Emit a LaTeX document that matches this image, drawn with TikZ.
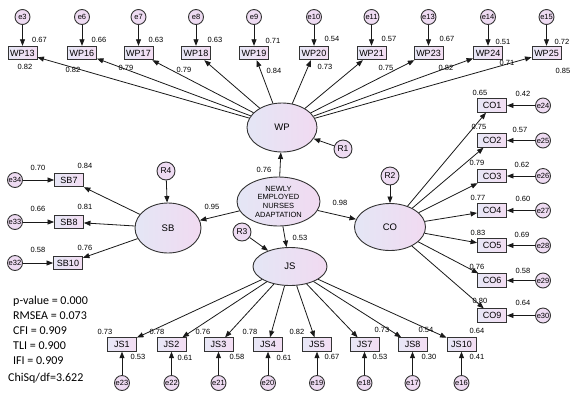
\documentclass[tikz,border=0pt]{standalone}
\usepackage{fontspec}
\setmainfont{Liberation Sans}
\newfontfamily\statfont{Carlito}
\usepackage{tikz}
\usetikzlibrary{arrows.meta,shapes.geometric}
\definecolor{boxl}{HTML}{E7E7F6}
\definecolor{boxr}{HTML}{F3DDF3}
\definecolor{latl}{HTML}{E4E6F5}
\definecolor{latr}{HTML}{F1DAF1}
\definecolor{errfill}{HTML}{EEDBF2}
\definecolor{edge}{HTML}{333333}
\tikzset{
  obs/.style={draw=edge,line width=0.9pt,left color=boxl,right color=boxr,minimum width=29pt,minimum height=13.5pt,inner sep=1pt,font=\fontsize{9}{10}\selectfont},
  lat/.style={ellipse,draw=edge,line width=0.9pt,left color=latl,right color=latr,inner sep=0pt,align=center,font=\fontsize{9.5}{11}\selectfont},
  err/.style={circle,draw=edge,line width=0.9pt,fill=errfill,minimum size=15pt,inner sep=0pt,font=\fontsize{7.5}{8}\selectfont},
  res/.style={err,minimum size=18pt,font=\fontsize{8.5}{9}\selectfont},
  coef/.style={inner sep=0pt,font=\fontsize{7.5}{8}\selectfont},
  parr/.style={-{Triangle[length=6.5pt,width=5pt]},line width=0.8pt,draw=black!90}
}
\begin{document}
\begin{tikzpicture}[x=1pt,y=-1pt]
  \useasboundingbox (0,0) rectangle (578,400);
  % latent variables
  \node[lat,minimum width=83pt,minimum height=49pt,font=\fontsize{7.5}{8.7}\selectfont] (nea) at (278.5,201.5) {NEWLY\\EMPLOYED\\NURSES\\ADAPTATION};
  \node[lat,minimum width=70pt,minimum height=49pt] (wp) at (282,127.5) {WP};
  \node[lat,minimum width=66pt,minimum height=50pt] (sb) at (168,228) {SB};
  \node[lat,minimum width=71pt,minimum height=47pt] (co) at (390,227) {CO};
  \node[lat,minimum width=74pt,minimum height=38pt] (js) at (290,266.5) {JS};
  \node[res] (r1) at (343,149) {R1}; \node[res] (r2) at (390,176) {R2};
  \node[res] (r3) at (242,232) {R3}; \node[res] (r4) at (166,171) {R4};
  \draw[parr] (nea)--(wp); \draw[parr] (nea)--(sb); \draw[parr] (nea)--(co); \draw[parr] (nea)--(js);
  \draw[parr] (r1)--(wp); \draw[parr] (r2)--(co); \draw[parr] (r3)--(js); \draw[parr] (r4)--(sb);
  \node[coef] (cwp) at (264,170) {0.76}; \node[coef] (csb) at (212,207) {0.95};
  \node[coef] (cco) at (340,203) {0.98}; \node[coef] (cjs) at (300,238) {0.53};
  % WP indicators
  \node[obs] (wp13) at (22.5,53) {WP13}; \node[err] (e3) at (22.5,17) {e3};
  \node[obs] (wp16) at (82,53) {WP16}; \node[err] (e6) at (82,17) {e6};
  \node[obs] (wp17) at (138.5,53) {WP17}; \node[err] (e7) at (138.5,17) {e7};
  \node[obs] (wp18) at (196,53) {WP18}; \node[err] (e8) at (196,17) {e8};
  \node[obs] (wp19) at (254,53) {WP19}; \node[err] (e9) at (254,17) {e9};
  \node[obs] (wp20) at (314,53) {WP20}; \node[err] (e10) at (314,17) {e10};
  \node[obs] (wp21) at (371.5,53) {WP21}; \node[err] (e11) at (371.5,17) {e11};
  \node[obs] (wp23) at (428.5,53) {WP23}; \node[err] (e13) at (428.5,17) {e13};
  \node[obs] (wp24) at (488,53) {WP24}; \node[err] (e14) at (488,17) {e14};
  \node[obs] (wp25) at (546.5,53) {WP25}; \node[err] (e15) at (546.5,17) {e15};
  \draw[parr] (e3)--(wp13); \draw[parr] (e6)--(wp16); \draw[parr] (e7)--(wp17); \draw[parr] (e8)--(wp18); \draw[parr] (e9)--(wp19);
  \draw[parr] (e10)--(wp20); \draw[parr] (e11)--(wp21); \draw[parr] (e13)--(wp23); \draw[parr] (e14)--(wp24); \draw[parr] (e15)--(wp25);
  \draw[parr] (wp)--(wp13); \draw[parr] (wp)--(wp16); \draw[parr] (wp)--(wp17); \draw[parr] (wp)--(wp18); \draw[parr] (wp)--(wp19);
  \draw[parr] (wp)--(wp20); \draw[parr] (wp)--(wp21); \draw[parr] (wp)--(wp23); \draw[parr] (wp)--(wp24); \draw[parr] (wp)--(wp25);
  \node[coef] (wp13v) at (39.5,40) {0.67}; \node[coef] (wp13l) at (25,67) {0.82};
  \node[coef] (wp16v) at (99,40) {0.66}; \node[coef] (wp16l) at (73,70) {0.82};
  \node[coef] (wp17v) at (156,40) {0.63}; \node[coef] (wp17l) at (126,68) {0.79};
  \node[coef] (wp18v) at (215,40) {0.63}; \node[coef] (wp18l) at (184,70) {0.79};
  \node[coef] (wp19v) at (273,41) {0.71}; \node[coef] (wp19l) at (274,71) {0.84};
  \node[coef] (wp20v) at (332,39) {0.54}; \node[coef] (wp20l) at (325,67) {0.73};
  \node[coef] (wp21v) at (389,39) {0.57}; \node[coef] (wp21l) at (386,68) {0.75};
  \node[coef] (wp23v) at (447,39) {0.67}; \node[coef] (wp23l) at (446,68) {0.82};
  \node[coef] (wp24v) at (503,42) {0.51}; \node[coef] (wp24l) at (507,63) {0.71};
  \node[coef] (wp25v) at (562,42) {0.72}; \node[coef] (wp25l) at (563,71) {0.85};
  % SB indicators
  \node[obs] (sb7) at (69,180) {SB7}; \node[err] (e34) at (15,180) {e34};
  \node[obs] (sb8) at (69,222) {SB8}; \node[err] (e33) at (15,222) {e33};
  \node[obs] (sb10) at (68,263) {SB10}; \node[err] (e32) at (15,263) {e32};
  \draw[parr] (e34)--(sb7); \draw[parr] (e33)--(sb8); \draw[parr] (e32)--(sb10);
  \draw[parr] (sb)--(sb7); \draw[parr] (sb)--(sb8); \draw[parr] (sb)--(sb10);
  \node[coef] (sb7v) at (38,168) {0.70}; \node[coef] (sb7l) at (85,166) {0.84};
  \node[coef] (sb8v) at (38,209) {0.66}; \node[coef] (sb8l) at (85,207) {0.81};
  \node[coef] (sb10v) at (38,250) {0.58}; \node[coef] (sb10l) at (85,248) {0.76};
  % CO indicators
  \node[obs] (co1) at (492,105.5) {CO1}; \node[err] (e24) at (543,105.5) {e24};
  \node[obs] (co2) at (492,140.5) {CO2}; \node[err] (e25) at (543,140.5) {e25};
  \node[obs] (co3) at (492,176) {CO3}; \node[err] (e26) at (543,176) {e26};
  \node[obs] (co4) at (492,210.5) {CO4}; \node[err] (e27) at (543,210.5) {e27};
  \node[obs] (co5) at (492,245.5) {CO5}; \node[err] (e28) at (543,245.5) {e28};
  \node[obs] (co6) at (492,280.5) {CO6}; \node[err] (e29) at (543,280.5) {e29};
  \node[obs] (co9) at (492,315.5) {CO9}; \node[err] (e30) at (543,315.5) {e30};
  \draw[parr] (e24)--(co1); \draw[parr] (e25)--(co2); \draw[parr] (e26)--(co3); \draw[parr] (e27)--(co4);
  \draw[parr] (e28)--(co5); \draw[parr] (e29)--(co6); \draw[parr] (e30)--(co9);
  \draw[parr] (co)--(co1); \draw[parr] (co)--(co2); \draw[parr] (co)--(co3); \draw[parr] (co)--(co4);
  \draw[parr] (co)--(co5); \draw[parr] (co)--(co6); \draw[parr] (co)--(co9);
  \node[coef] (co1l) at (480,93) {0.65}; \node[coef] (co1v) at (523,94) {0.42};
  \node[coef] (co2l) at (479,127) {0.75}; \node[coef] (co2v) at (520,130) {0.57};
  \node[coef] (co3l) at (477,163) {0.79}; \node[coef] (co3v) at (522,165) {0.62};
  \node[coef] (co4l) at (478,198) {0.77}; \node[coef] (co4v) at (523,199) {0.60};
  \node[coef] (co5l) at (478,233) {0.83}; \node[coef] (co5v) at (522,235) {0.69};
  \node[coef] (co6l) at (477,267) {0.76}; \node[coef] (co6v) at (523,271) {0.58};
  \node[coef] (co9l) at (480,301) {0.80}; \node[coef] (co9v) at (523,303) {0.64};
  % JS indicators
  \node[obs] (js1) at (122,344.5) {JS1}; \node[err] (e23) at (122,383) {e23};
  \node[obs] (js2) at (171.5,344.5) {JS2}; \node[err] (e22) at (171.5,383) {e22};
  \node[obs] (js3) at (218.5,344.5) {JS3}; \node[err] (e21) at (218.5,383) {e21};
  \node[obs] (js4) at (268,344.5) {JS4}; \node[err] (e20) at (268,383) {e20};
  \node[obs] (js5) at (317,344.5) {JS5}; \node[err] (e19) at (317,383) {e19};
  \node[obs] (js7) at (364.5,344.5) {JS7}; \node[err] (e18) at (364.5,383) {e18};
  \node[obs] (js8) at (412.5,344.5) {JS8}; \node[err] (e17) at (412.5,383) {e17};
  \node[obs] (js10) at (461.5,344.5) {JS10}; \node[err] (e16) at (461.5,383) {e16};
  \draw[parr] (e23)--(js1); \draw[parr] (e22)--(js2); \draw[parr] (e21)--(js3); \draw[parr] (e20)--(js4);
  \draw[parr] (e19)--(js5); \draw[parr] (e18)--(js7); \draw[parr] (e17)--(js8); \draw[parr] (e16)--(js10);
  \draw[parr] (js)--(js1); \draw[parr] (js)--(js2); \draw[parr] (js)--(js3); \draw[parr] (js)--(js4);
  \draw[parr] (js)--(js5); \draw[parr] (js)--(js7); \draw[parr] (js)--(js8); \draw[parr] (js)--(js10);
  \node[coef] (js1l) at (105,332) {0.73}; \node[coef] (js1v) at (138,357) {0.53};
  \node[coef] (js2l) at (157,332) {0.78}; \node[coef] (js2v) at (185,358) {0.61};
  \node[coef] (js3l) at (203,332) {0.76}; \node[coef] (js3v) at (237,357) {0.58};
  \node[coef] (js4l) at (250,332) {0.78}; \node[coef] (js4v) at (284,358) {0.61};
  \node[coef] (js5l) at (297,332) {0.82}; \node[coef] (js5v) at (332,357) {0.67};
  \node[coef] (js7l) at (382,330) {0.73}; \node[coef] (js7v) at (380,357) {0.53};
  \node[coef] (js8l) at (426,330) {0.54}; \node[coef] (js8v) at (429,357) {0.30};
  \node[coef] (js10l) at (477,331) {0.64}; \node[coef] (js10v) at (477,357) {0.41};
  % fit indices
  \node[anchor=north west,inner sep=0pt,align=left,font=\statfont\fontsize{12}{15}\selectfont] (fit) at (13,296) {p-value = 0.000\\RMSEA = 0.073\\CFI = 0.909\\TLI = 0.900\\IFI = 0.909};
  \node[anchor=west,inner sep=0pt,font=\statfont\fontsize{12}{15}\selectfont] (chisq) at (8,378) {ChiSq/df=3.622};
\end{tikzpicture}
\end{document}
